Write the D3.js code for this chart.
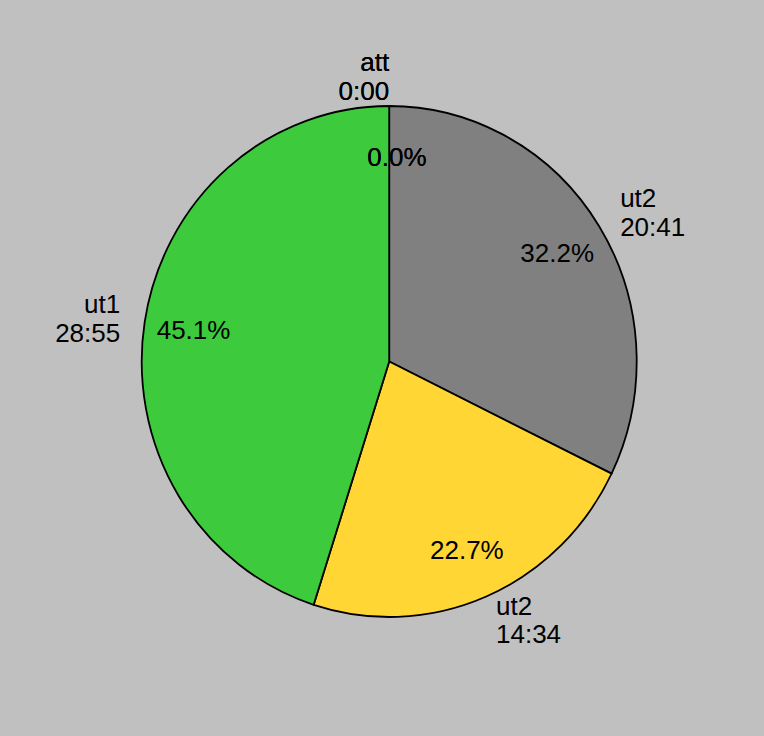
<!DOCTYPE html>
<html><head><meta charset="utf-8">
<script src="https://cdn.jsdelivr.net/npm/d3@7"></script>
<style>
html,body{margin:0;padding:0;background:#c0c0c0;}
svg{display:block;}
text{font-family:"Liberation Sans",Arial,Helvetica,sans-serif;font-size:26px;fill:#000;}
</style></head>
<body>
<script>
const labels = ["att", "att", "ut2", "ut2", "ut1"];
const seconds = [0, 0, 1241, 874, 1735];
const times = ["0:00", "0:00", "20:41", "14:34", "28:55"];
const colors = ["#3dca3d", "#808080", "#808080", "#ffd633", "#3dca3d"];

const W = 764, H = 736;
const cx = 389.2, cy = 361.5, rx = 247.5, ry = 255.5;
const sy = ry / rx;

const svg = d3.select("body").append("svg").attr("width", W).attr("height", H);
svg.append("rect").attr("width", W).attr("height", H).attr("fill", "#c0c0c0");

const data = labels.map((l, i) => ({label: l, value: seconds[i], time: times[i], color: colors[i]}));
const total = d3.sum(seconds);
const pie = d3.pie().sort(null).value(d => d.value);
const arcs = pie(data);
const arc = d3.arc().innerRadius(0).outerRadius(rx);

const g = svg.append("g").attr("transform", `translate(${cx},${cy}) scale(1,${sy})`);
g.selectAll("path").data(arcs.filter(a => a.data.value > 0)).join("path")
  .attr("d", arc)
  .attr("fill", d => d.data.color)
  .attr("stroke", "#000")
  .attr("stroke-width", 1.8)
  .attr("vector-effect", "non-scaling-stroke")
  .attr("stroke-linejoin", "round");

const fmt = d3.format(".1%");
const pos = (a, k) => {
  const m = (a.startAngle + a.endAngle) / 2;
  return [cx + Math.sin(m) * rx * k, cy - Math.cos(m) * ry * k, m];
};

// percentage labels
const t = svg.append("g");
arcs.forEach(a => {
  const [x, y] = pos(a, 0.8);
  t.append("text").attr("x", x).attr("y", y).attr("dy", "0.35em")
    .attr("dx", a.data.value === 0 ? "0.3em" : 0)
    .attr("text-anchor", "middle").text(fmt(a.data.value / total));
});

// outer labels
arcs.forEach(a => {
  const [x, y, m] = pos(a, 1.1);
  const anchor = (m > 0 && m < Math.PI) ? "start" : "end";
  const tx = t.append("text").attr("x", x).attr("y", y).attr("text-anchor", anchor);
  tx.append("tspan").attr("x", x).attr("dy", a.data.value === 0 ? "-0.35em" : "-0.2em").text(a.data.label);
  tx.append("tspan").attr("x", x).attr("dy", "1.1em").text(a.data.time);
});
</script>
</body></html>
